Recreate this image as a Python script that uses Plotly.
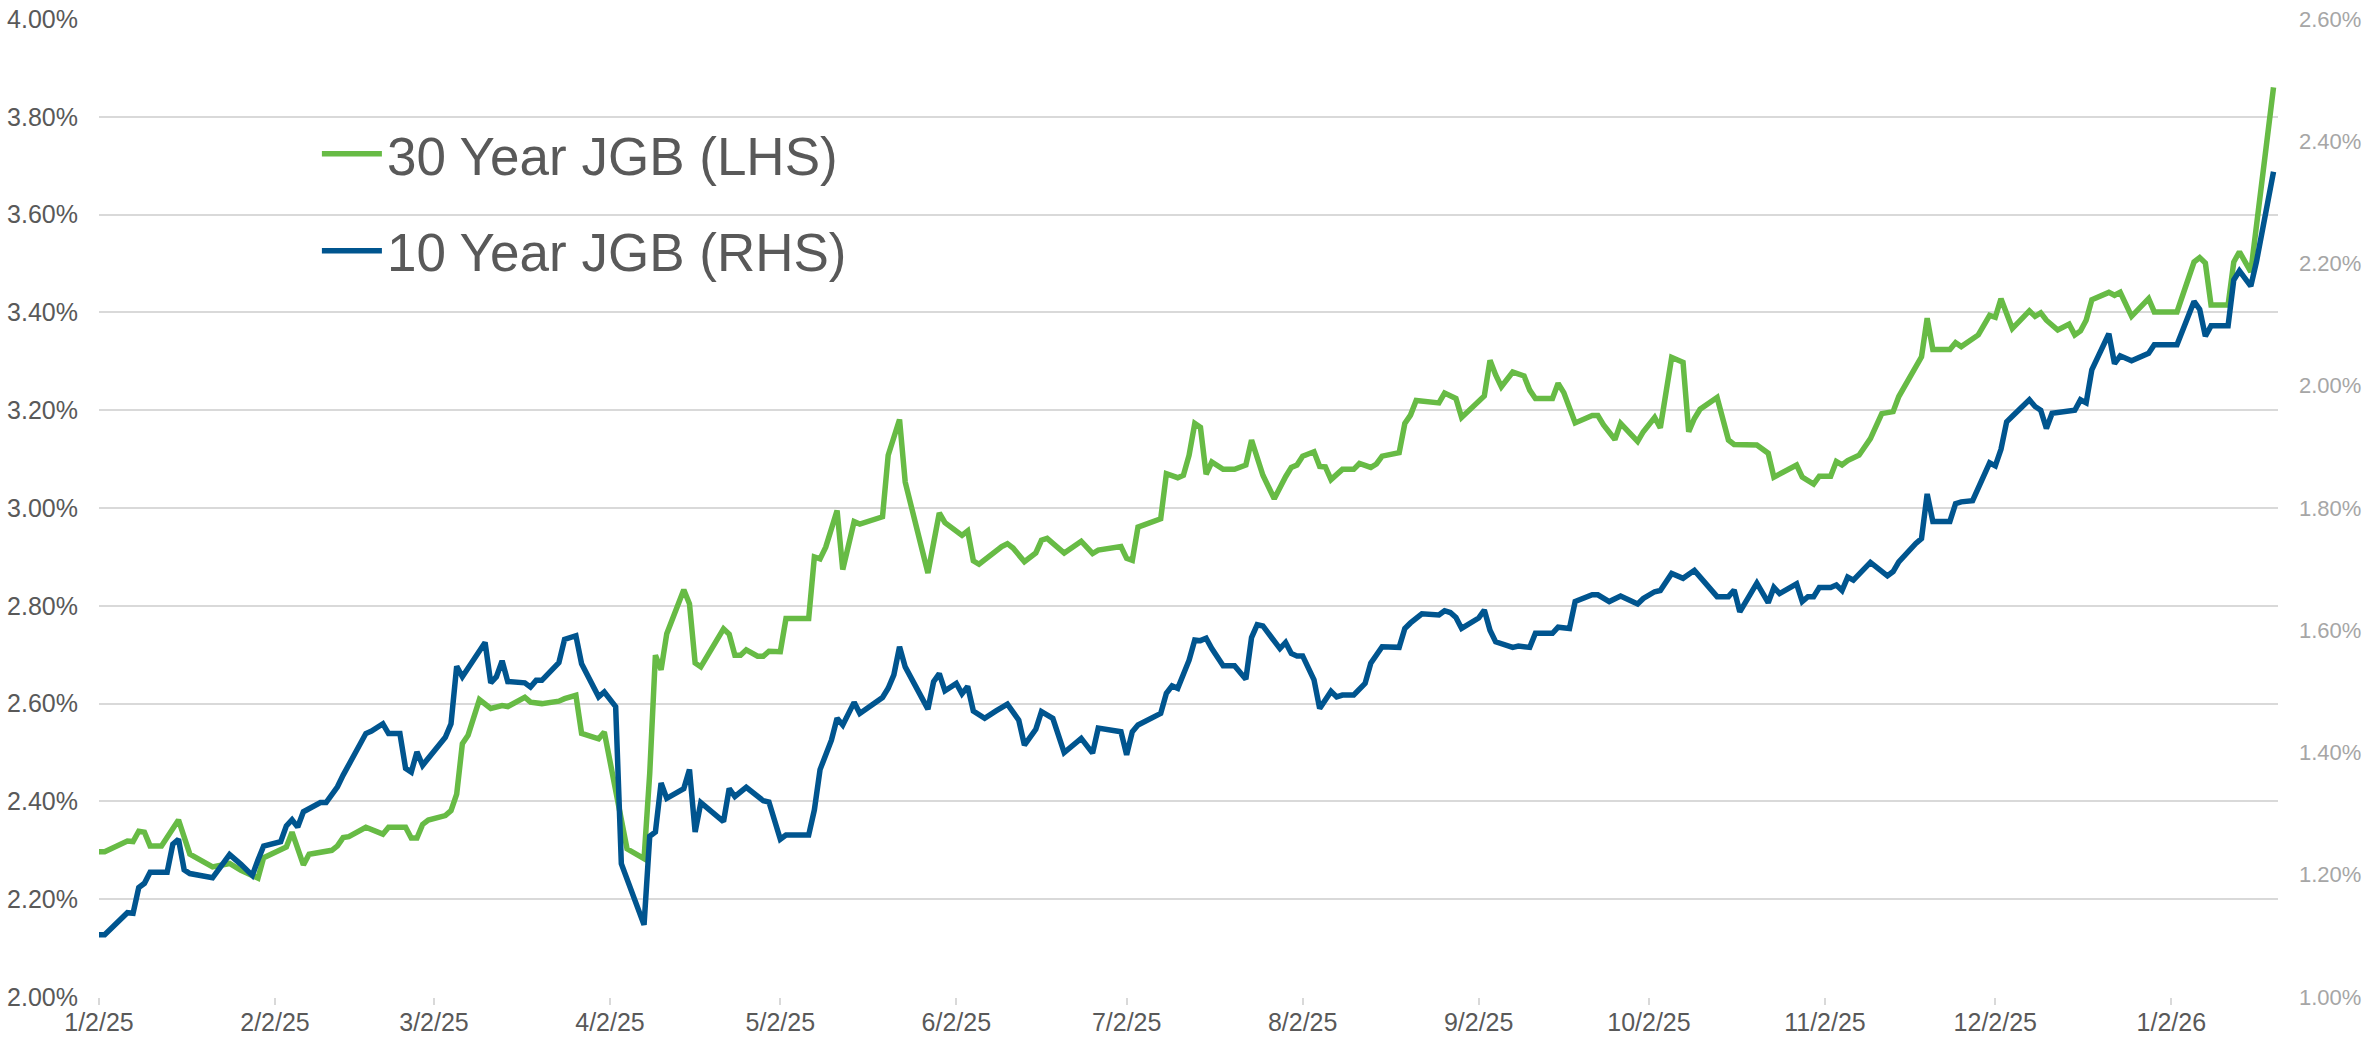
import plotly.graph_objects as go
from datetime import datetime

# ---------------- data ----------------
dates_30y = [
"2025-01-02","2025-01-03","2025-01-07","2025-01-08","2025-01-09","2025-01-10","2025-01-11","2025-01-13","2025-01-16","2025-01-18",
"2025-01-22","2025-01-25","2025-01-27","2025-01-30","2025-01-31","2025-02-04","2025-02-05","2025-02-07","2025-02-08","2025-02-11",
"2025-02-12","2025-02-13","2025-02-14","2025-02-15","2025-02-18","2025-02-21","2025-02-22","2025-02-25","2025-02-26","2025-02-27",
"2025-02-28","2025-03-01","2025-03-04","2025-03-05","2025-03-06","2025-03-07","2025-03-08","2025-03-10","2025-03-12","2025-03-14",
"2025-03-15","2025-03-18","2025-03-19","2025-03-21","2025-03-24","2025-03-25","2025-03-27","2025-03-28","2025-03-31","2025-04-01",
"2025-04-03","2025-04-05","2025-04-08","2025-04-09","2025-04-10","2025-04-11","2025-04-12","2025-04-15","2025-04-16","2025-04-17",
"2025-04-18","2025-04-22","2025-04-23","2025-04-24","2025-04-25","2025-04-26","2025-04-28","2025-04-29","2025-04-30","2025-05-02",
"2025-05-03","2025-05-07","2025-05-08","2025-05-09","2025-05-10","2025-05-11","2025-05-12","2025-05-13","2025-05-15","2025-05-16",
"2025-05-20","2025-05-21","2025-05-23","2025-05-24","2025-05-28","2025-05-30","2025-05-31","2025-06-03","2025-06-04","2025-06-05",
"2025-06-06","2025-06-10","2025-06-11","2025-06-12","2025-06-14","2025-06-16","2025-06-17","2025-06-18","2025-06-21","2025-06-24",
"2025-06-26","2025-06-27","2025-07-01","2025-07-02","2025-07-03","2025-07-04","2025-07-08","2025-07-09","2025-07-11","2025-07-12",
"2025-07-13","2025-07-14","2025-07-15","2025-07-16","2025-07-17","2025-07-19","2025-07-21","2025-07-23","2025-07-24","2025-07-26",
"2025-07-28","2025-07-30","2025-07-31","2025-08-01","2025-08-02","2025-08-04","2025-08-05","2025-08-06","2025-08-07","2025-08-09",
"2025-08-11","2025-08-12","2025-08-14","2025-08-15","2025-08-16","2025-08-19","2025-08-20","2025-08-21","2025-08-22","2025-08-26",
"2025-08-27","2025-08-29","2025-08-30","2025-09-03","2025-09-04","2025-09-05","2025-09-06","2025-09-08","2025-09-10","2025-09-11",
"2025-09-12","2025-09-15","2025-09-16","2025-09-17","2025-09-19","2025-09-22","2025-09-23","2025-09-24","2025-09-26","2025-09-27",
"2025-09-30","2025-10-01","2025-10-03","2025-10-04","2025-10-06","2025-10-08","2025-10-09","2025-10-10","2025-10-11","2025-10-14",
"2025-10-16","2025-10-17","2025-10-21","2025-10-23","2025-10-24","2025-10-28","2025-10-29","2025-10-31","2025-11-01","2025-11-03",
"2025-11-04","2025-11-05","2025-11-06","2025-11-08","2025-11-10","2025-11-12","2025-11-14","2025-11-15","2025-11-17","2025-11-19",
"2025-11-20","2025-11-21","2025-11-24","2025-11-25","2025-11-26","2025-11-29","2025-12-01","2025-12-02","2025-12-03","2025-12-04",
"2025-12-05","2025-12-08","2025-12-09","2025-12-10","2025-12-11","2025-12-13","2025-12-15","2025-12-16","2025-12-17","2025-12-18",
"2025-12-19","2025-12-22","2025-12-23","2025-12-24","2025-12-26","2025-12-29","2025-12-30","2026-01-03","2026-01-05","2026-01-06",
"2026-01-07","2026-01-08","2026-01-09","2026-01-12","2026-01-13","2026-01-14","2026-01-16","2026-01-20",
]
yield_30y = [
2.297,2.297,2.319,2.318,2.339,2.337,2.309,2.309,2.362,2.292,
2.266,2.273,2.259,2.243,2.285,2.307,2.337,2.270,2.292,2.299,
2.300,2.309,2.326,2.328,2.347,2.333,2.347,2.347,2.325,2.325,
2.353,2.362,2.371,2.381,2.415,2.518,2.535,2.608,2.590,2.596,
2.594,2.613,2.603,2.600,2.605,2.610,2.617,2.539,2.528,2.542,
2.423,2.303,2.283,2.457,2.699,2.669,2.743,2.833,2.804,2.683,
2.675,2.753,2.742,2.699,2.699,2.710,2.697,2.697,2.707,2.706,
2.774,2.774,2.900,2.896,2.920,2.961,2.995,2.874,2.972,2.967,
2.982,3.108,3.181,3.053,2.867,2.990,2.970,2.944,2.953,2.892,
2.885,2.921,2.927,2.918,2.890,2.908,2.934,2.938,2.908,2.932,
2.907,2.914,2.921,2.897,2.893,2.961,2.978,3.070,3.062,3.067,
3.108,3.173,3.165,3.069,3.094,3.079,3.079,3.088,3.139,3.067,
3.019,3.064,3.083,3.088,3.106,3.115,3.085,3.084,3.058,3.079,
3.079,3.091,3.083,3.090,3.106,3.113,3.173,3.190,3.220,3.215,
3.235,3.224,3.185,3.229,3.302,3.272,3.248,3.278,3.270,3.241,
3.224,3.224,3.255,3.236,3.174,3.189,3.189,3.170,3.140,3.173,
3.136,3.156,3.185,3.164,3.308,3.298,3.156,3.183,3.202,3.226,
3.139,3.130,3.129,3.112,3.063,3.088,3.063,3.049,3.065,3.065,
3.095,3.088,3.097,3.108,3.142,3.193,3.197,3.228,3.268,3.309,
3.388,3.324,3.324,3.338,3.330,3.354,3.394,3.390,3.428,3.401,
3.367,3.403,3.392,3.399,3.384,3.364,3.376,3.354,3.362,3.384,
3.426,3.441,3.435,3.441,3.392,3.428,3.401,3.401,3.466,3.503,
3.512,3.501,3.415,3.415,3.503,3.524,3.483,3.860,
]

dates_10y = [
"2025-01-02","2025-01-03","2025-01-07","2025-01-08","2025-01-09","2025-01-10","2025-01-11","2025-01-14","2025-01-15","2025-01-16",
"2025-01-17","2025-01-18","2025-01-22","2025-01-23","2025-01-25","2025-01-27","2025-01-29","2025-01-30","2025-01-31","2025-02-03",
"2025-02-04","2025-02-05","2025-02-06","2025-02-07","2025-02-10","2025-02-11","2025-02-13","2025-02-14","2025-02-18","2025-02-19",
"2025-02-21","2025-02-22","2025-02-24","2025-02-25","2025-02-26","2025-02-27","2025-02-28","2025-03-04","2025-03-05","2025-03-06",
"2025-03-07","2025-03-11","2025-03-12","2025-03-13","2025-03-14","2025-03-15","2025-03-18","2025-03-19","2025-03-20","2025-03-21",
"2025-03-24","2025-03-25","2025-03-27","2025-03-28","2025-03-31","2025-04-01","2025-04-03","2025-04-04","2025-04-08","2025-04-09",
"2025-04-10","2025-04-11","2025-04-12","2025-04-15","2025-04-16","2025-04-17","2025-04-18","2025-04-22","2025-04-23","2025-04-24",
"2025-04-26","2025-04-29","2025-04-30","2025-05-02","2025-05-03","2025-05-07","2025-05-08","2025-05-09","2025-05-11","2025-05-12",
"2025-05-13","2025-05-15","2025-05-16","2025-05-20","2025-05-21","2025-05-22","2025-05-23","2025-05-24","2025-05-28","2025-05-29",
"2025-05-30","2025-05-31","2025-06-02","2025-06-03","2025-06-04","2025-06-05","2025-06-07","2025-06-09","2025-06-11","2025-06-13",
"2025-06-14","2025-06-16","2025-06-17","2025-06-19","2025-06-21","2025-06-24","2025-06-26","2025-06-27","2025-07-01","2025-07-02",
"2025-07-03","2025-07-04","2025-07-08","2025-07-09","2025-07-10","2025-07-11","2025-07-13","2025-07-14","2025-07-15","2025-07-16",
"2025-07-17","2025-07-19","2025-07-21","2025-07-23","2025-07-24","2025-07-25","2025-07-26","2025-07-29","2025-07-30","2025-07-31",
"2025-08-01","2025-08-02","2025-08-04","2025-08-05","2025-08-07","2025-08-08","2025-08-09","2025-08-11","2025-08-13","2025-08-14",
"2025-08-16","2025-08-19","2025-08-20","2025-08-21","2025-08-23","2025-08-26","2025-08-27","2025-08-28","2025-08-29","2025-08-30",
"2025-09-02","2025-09-03","2025-09-04","2025-09-05","2025-09-08","2025-09-09","2025-09-11","2025-09-12","2025-09-15","2025-09-16",
"2025-09-18","2025-09-19","2025-09-22","2025-09-23","2025-09-25","2025-09-27","2025-09-30","2025-10-01","2025-10-03","2025-10-04",
"2025-10-06","2025-10-08","2025-10-10","2025-10-14","2025-10-16","2025-10-17","2025-10-18","2025-10-21","2025-10-23","2025-10-24",
"2025-10-25","2025-10-28","2025-10-29","2025-10-30","2025-10-31","2025-11-01","2025-11-03","2025-11-04","2025-11-05","2025-11-06",
"2025-11-07","2025-11-10","2025-11-13","2025-11-14","2025-11-15","2025-11-18","2025-11-19","2025-11-20","2025-11-21","2025-11-24",
"2025-11-25","2025-11-26","2025-11-28","2025-12-01","2025-12-02","2025-12-03","2025-12-04","2025-12-05","2025-12-08","2025-12-09",
"2025-12-10","2025-12-11","2025-12-12","2025-12-16","2025-12-17","2025-12-18","2025-12-19","2025-12-22","2025-12-23","2025-12-24",
"2025-12-26","2025-12-29","2025-12-30","2026-01-03","2026-01-05","2026-01-06","2026-01-07","2026-01-08","2026-01-09","2026-01-12",
"2026-01-13","2026-01-14","2026-01-16","2026-01-17","2026-01-20",
]
yield_10y = [
1.102,1.102,1.138,1.137,1.179,1.186,1.204,1.204,1.250,1.258,
1.208,1.202,1.195,1.208,1.233,1.217,1.199,1.224,1.247,1.254,
1.280,1.290,1.278,1.303,1.318,1.318,1.344,1.363,1.431,1.435,
1.447,1.431,1.431,1.374,1.368,1.401,1.379,1.425,1.447,1.541,
1.524,1.580,1.514,1.524,1.550,1.516,1.514,1.507,1.518,1.518,
1.547,1.585,1.591,1.545,1.491,1.499,1.475,1.218,1.118,1.263,
1.270,1.350,1.325,1.341,1.372,1.270,1.318,1.287,1.341,1.328,
1.343,1.321,1.319,1.258,1.265,1.265,1.306,1.372,1.420,1.456,
1.445,1.482,1.464,1.490,1.505,1.527,1.573,1.540,1.471,1.516,
1.529,1.501,1.513,1.496,1.508,1.468,1.456,1.468,1.479,1.453,
1.412,1.438,1.467,1.456,1.400,1.423,1.399,1.440,1.434,1.396,
1.434,1.445,1.464,1.497,1.509,1.505,1.551,1.584,1.583,1.587,
1.570,1.542,1.542,1.520,1.588,1.609,1.607,1.570,1.580,1.562,
1.558,1.558,1.519,1.472,1.500,1.491,1.494,1.494,1.513,1.546,
1.573,1.572,1.603,1.612,1.627,1.625,1.632,1.629,1.621,1.603,
1.620,1.633,1.600,1.581,1.572,1.574,1.572,1.595,1.595,1.605,
1.603,1.647,1.658,1.658,1.647,1.656,1.643,1.652,1.663,1.665,
1.693,1.685,1.698,1.655,1.655,1.666,1.630,1.677,1.645,1.670,
1.660,1.676,1.647,1.655,1.655,1.670,1.670,1.674,1.665,1.687,
1.682,1.711,1.689,1.696,1.712,1.742,1.750,1.823,1.778,1.778,
1.807,1.810,1.812,1.874,1.869,1.896,1.941,1.950,1.977,1.966,
1.960,1.930,1.955,1.960,1.977,1.972,2.026,2.085,2.036,2.049,
2.041,2.053,2.067,2.067,2.118,2.138,2.125,2.081,2.098,2.098,
2.173,2.188,2.163,2.203,2.350,
]

x_tick_labels = ["1/2/25","2/2/25","3/2/25","4/2/25","5/2/25","6/2/25","7/2/25",
                 "8/2/25","9/2/25","10/2/25","11/2/25","12/2/25","1/2/26"]
series_names = ["30 Year JGB (LHS)", "10 Year JGB (RHS)"]

x_tick_vals = [datetime.strptime(t, "%m/%d/%y").strftime("%Y-%m-%d") for t in x_tick_labels]

GREEN = "#67BB45"
BLUE = "#00558F"
GRID = "#D9D9D9"
FONT = "Liberation Sans, Arial, sans-serif"

fig = go.Figure()
fig.add_trace(go.Scatter(x=dates_30y, y=yield_30y, name=series_names[0], mode="lines",
                         line=dict(color=GREEN, width=5.5), yaxis="y", legendgroup="a"))
fig.add_trace(go.Scatter(x=dates_10y, y=yield_10y, name=series_names[1], mode="lines",
                         line=dict(color=BLUE, width=5.5), yaxis="y2", legendgroup="b"))

fig.update_layout(
    width=2367, height=1044,
    margin=dict(l=99, r=89, t=19, b=47, autoexpand=False),
    paper_bgcolor="white", plot_bgcolor="white",
    font=dict(family=FONT, color="#595959"),
    showlegend=True,
    legend=dict(x=0.1, y=0.904, xanchor="left", yanchor="top",
                font=dict(size=53, color="#595959", family=FONT),
                bgcolor="rgba(0,0,0,0)", tracegroupgap=25, itemwidth=60),
    xaxis=dict(type="date", range=["2025-01-02", "2026-01-20 19:00"], automargin=False,
               tickmode="array", tickvals=x_tick_vals, ticktext=x_tick_labels,
               showgrid=False, zeroline=False, showline=False,
               ticks="outside", ticklen=7, tickcolor=GRID, tickwidth=1.5,
               ticklabelstandoff=-4,
               tickfont=dict(size=25, color="#595959", family=FONT)),
    yaxis=dict(range=[2.0, 4.0], dtick=0.2, tick0=2.0, tickformat=".2f", ticksuffix="%",
               automargin=False,
               showgrid=True, gridcolor=GRID, gridwidth=1.5, zeroline=False, showline=False,
               ticks="", ticklabelstandoff=20,
               tickfont=dict(size=25, color="#595959", family=FONT)),
    yaxis2=dict(range=[1.0, 2.6], dtick=0.2, tick0=1.0, tickformat=".2f", ticksuffix="%",
                automargin=False,
                overlaying="y", side="right", showgrid=False, zeroline=False, showline=False,
                ticks="", ticklabelstandoff=20,
                tickfont=dict(size=22, color="#A6A6A6", family=FONT)),
)

fig.write_html("out.html", config={"displayModeBar": False},
               post_script="document.body.style.margin='0px';document.body.style.overflow='hidden';")
